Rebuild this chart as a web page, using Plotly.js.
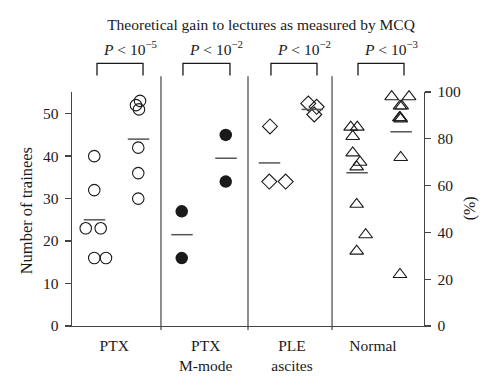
<!DOCTYPE html>
<html>
<head>
<meta charset="utf-8">
<script src="https://cdn.plot.ly/plotly-3.0.1.min.js"></script>
<style>html,body{margin:0;padding:0;background:#fff;}#chart{width:500px;height:392px;}</style>
</head>
<body>
<div id="chart"></div>
<script>
// ---- data ----
const categories = ['PTX', 'PTX<br>M-mode', 'PLE<br>ascites', 'Normal'];
const pLabels = ['<i>P</i> < 10<sup>−5</sup>', '<i>P</i> < 10<sup>−2</sup>', '<i>P</i> < 10<sup>−2</sup>', '<i>P</i> < 10<sup>−3</sup>'];

// PTX (number of trainees)
const ptxBefore = [40, 32, 23, 23, 16, 16];
const ptxBeforeX = [0.253, 0.253, 0.156, 0.326, 0.253, 0.386];
const ptxAfter = [53, 52, 51, 42, 36, 30];
const ptxAfterX = [0.773, 0.727, 0.761, 0.753, 0.753, 0.753];
// PTX M-mode
const mmodeBefore = [27, 16];
const mmodeBeforeX = [1.247, 1.247];
const mmodeAfter = [45, 34];
const mmodeAfterX = [1.747, 1.747];
// PLE ascites
const pleBefore = [47, 34, 34];
const pleBeforeX = [2.25, 2.242, 2.428];
const pleAfter = [52.4, 51.6, 49.8];
const pleAfterX = [2.685, 2.78, 2.753];
// Normal (%)
const normalBefore = [85, 85, 81, 74, 70, 68, 52, 39, 32];
const normalBeforeX = [3.167, 3.242, 3.19, 3.19, 3.273, 3.235, 3.235, 3.337, 3.235];
const normalAfter = [98, 98, 94, 94, 89, 89, 88.5, 72, 22];
const normalAfterX = [3.633, 3.83, 3.727, 3.747, 3.72, 3.73, 3.735, 3.735, 3.727];

// mean lines
const meanX = [0.256, 0.756, 1.25, 1.75, 2.244, 2.73];
const meanY = [25, 44, 21.5, 39.5, 38.4, 51];
const meanXNormal = [3.24, 3.74];
const meanYNormal = [65.5, 83];

// layout helpers
const sepX = [1.011, 2.0, 2.955];
const bracketX = [[0.284, 0.807], [1.261, 1.795], [2.261, 2.784], [3.25, 3.773]];
const catTickX = [0.48, 1.52, 2.5, 3.42];

const FONT = 'Liberation Serif, Times New Roman, serif';
const ink = '#1a1a1a';

function hollow(sym, size) {
  return {symbol: sym, size: size, color: 'rgba(255,255,255,0)', line: {color: ink, width: 1.1}};
}
function segs(xs, ys, hw) {
  const x = [], y = [];
  xs.forEach((v, i) => { x.push(v - hw, v + hw, null); y.push(ys[i], ys[i], null); });
  return {x, y};
}

const m1 = segs(meanX, meanY, 0.122);
const m2 = segs(meanXNormal, meanYNormal, 0.122);

const traces = [
  {x: ptxBeforeX, y: ptxBefore, mode: 'markers', marker: hollow('circle', 11.5)},
  {x: ptxAfterX, y: ptxAfter, mode: 'markers', marker: hollow('circle', 11.5)},
  {x: mmodeBeforeX, y: mmodeBefore, mode: 'markers', marker: {symbol: 'circle', size: 12.5, color: ink, line: {width: 0}}},
  {x: mmodeAfterX, y: mmodeAfter, mode: 'markers', marker: {symbol: 'circle', size: 12.5, color: ink, line: {width: 0}}},
  {x: pleBeforeX, y: pleBefore, mode: 'markers', marker: hollow('diamond', 11.5)},
  {x: pleAfterX, y: pleAfter, mode: 'markers', marker: hollow('diamond', 11.5)},
  {x: m1.x, y: m1.y, mode: 'lines', line: {color: '#555', width: 1.5}},
  {x: normalBeforeX, y: normalBefore, yaxis: 'y2', mode: 'markers', marker: hollow('triangle-up', 12)},
  {x: normalAfterX, y: normalAfter, yaxis: 'y2', mode: 'markers', marker: hollow('triangle-up', 12)},
  {x: m2.x, y: m2.y, yaxis: 'y2', mode: 'lines', line: {color: '#555', width: 1.5}}
].map(t => Object.assign({type: 'scatter', showlegend: false, hoverinfo: 'skip', cliponaxis: false}, t));

const shapes = [];
sepX.forEach(x => shapes.push({type: 'line', xref: 'x', yref: 'paper', x0: x, x1: x, y0: -0.017, y1: 1.067, line: {color: '#444', width: 1.2}}));
bracketX.forEach(b => shapes.push({type: 'path', xref: 'x', yref: 'paper',
  path: `M${b[0]},1.071 L${b[0]},1.1225 L${b[1]},1.1225 L${b[1]},1.071`, line: {color: ink, width: 1.3}}));

const annotations = [];
bracketX.forEach((b, i) => annotations.push({xref: 'x', yref: 'paper', x: (b[0] + b[1]) / 2 + 0.11, y: 1.186,
  text: pLabels[i], showarrow: false, xanchor: 'center', yanchor: 'middle', font: {family: FONT, size: 15.5, color: ink}}));
annotations.push({xref: 'paper', yref: 'paper', x: -46 / 352, y: 0.49, text: 'Number of trainees', textangle: -90,
  showarrow: false, xanchor: 'center', yanchor: 'middle', font: {family: FONT, size: 16.5, color: ink}});
annotations.push({xref: 'paper', yref: 'paper', x: 1 + 46 / 352, y: 0.503, text: '(%)', textangle: -90,
  showarrow: false, xanchor: 'center', yanchor: 'middle', font: {family: FONT, size: 16, color: ink}});

const layout = {
  width: 500, height: 392,
  margin: {l: 72, r: 76, t: 91.7, b: 66, pad: 0},
  paper_bgcolor: '#fff', plot_bgcolor: '#fff',
  font: {family: FONT, size: 15.5, color: ink},
  title: {text: 'Theoretical gain to lectures as measured by MCQ', xref: 'container', yref: 'container',
    x: 0.522, y: 1 - 25 / 392, xanchor: 'center', yanchor: 'middle', font: {family: FONT, size: 15.5, color: ink}},
  xaxis: {range: [0, 4], showgrid: false, zeroline: false, showline: true, linecolor: '#444', linewidth: 1.3,
    ticks: '', tickmode: 'array', tickvals: catTickX, ticktext: categories, ticklabelstandoff: 5,
    tickfont: {family: FONT, size: 15.5, color: ink}, fixedrange: true},
  yaxis: {range: [0, 55.1], showgrid: false, zeroline: false, showline: true, linecolor: '#444', linewidth: 1.3,
    ticks: 'outside', ticklen: 6, tickwidth: 1.3, tickcolor: '#444', tickvals: [0, 10, 20, 30, 40, 50],
    ticklabelstandoff: 3, tickfont: {family: FONT, size: 15.5, color: ink}, fixedrange: true},
  yaxis2: {range: [0, 100], overlaying: 'y', side: 'right', showgrid: false, zeroline: false, showline: true,
    linecolor: '#444', linewidth: 1.3, ticks: 'outside', ticklen: 6, tickwidth: 1.3, tickcolor: '#444',
    tickvals: [0, 20, 40, 60, 80, 100], ticklabelstandoff: 3, tickfont: {family: FONT, size: 15.5, color: ink},
    fixedrange: true},
  shapes: shapes,
  annotations: annotations
};

Plotly.newPlot('chart', traces, layout, {displayModeBar: false, staticPlot: true});
</script>
</body>
</html>
